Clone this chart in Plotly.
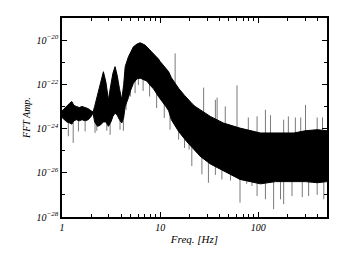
import numpy as np
import plotly.graph_objects as go

# Envelope of the dense FFT amplitude trace (log10 of amplitude)
freq_env = [1.00, 1.05, 1.12, 1.20, 1.26, 1.32, 1.40, 1.50, 1.60, 1.72, 1.85, 1.98, 2.07,
            2.15, 2.30, 2.45, 2.64, 2.80, 2.97, 3.15, 3.30, 3.47, 3.65, 3.85, 4.06, 4.25,
            4.40, 4.75, 4.97, 5.34, 5.8, 6.25, 7.0, 7.3, 8.1, 8.54, 9.6, 10.0, 11.4, 12.2,
            13.0, 15.4, 17.7, 18.7, 21.4, 22.7, 25.5, 32.4, 44.0, 65.0, 105.0, 150.0,
            230.0, 300.0, 400.0, 500.0]
upper_log = [-23.2, -23.1, -22.95, -22.85, -22.78, -22.95, -23.0, -23.05, -23.0, -23.05,
             -23.1, -23.2, -23.25, -23.0, -22.5, -22.0, -21.43, -21.9, -22.7, -22.0, -21.5,
             -21.2, -21.6, -22.2, -22.7, -22.0, -21.2, -20.75, -20.55, -20.3, -20.18,
             -20.12, -20.22, -20.3, -20.5, -20.6, -20.85, -20.97, -21.3, -21.43, -21.7,
             -22.18, -22.5, -22.63, -22.9, -23.0, -23.15, -23.45, -23.75, -23.98, -24.2,
             -24.2, -24.2, -24.1, -24.05, -24.1]
lower_log = [-23.5, -23.6, -23.7, -23.75, -23.8, -23.65, -23.6, -23.65, -23.6, -23.65,
             -23.6, -23.45, -23.3, -23.7, -23.9, -23.85, -23.7, -23.7, -23.9, -23.7, -23.45,
             -23.3, -23.4, -23.6, -23.75, -23.5, -23.0, -22.6, -22.3, -21.95, -21.75,
             -21.72, -21.8, -21.85, -22.1, -22.2, -22.55, -22.65, -23.0, -23.2, -23.6,
             -24.13, -24.5, -24.6, -24.88, -25.0, -25.25, -25.6, -25.9, -26.3, -26.5,
             -26.4, -26.4, -26.4, -26.45, -26.4]

# Grey downward spikes (frequency, log10 tip)
down_freq = [1.16, 1.30, 1.47, 1.72, 2.17, 2.26, 2.86, 3.09, 3.90, 4.22, 4.5, 4.97, 5.55,
             6.0, 6.7, 7.8, 9.2, 11.0, 12.6, 15.4, 17.7, 19.7, 21.0, 26.6, 31.0, 36.5,
             42.5, 52.0, 65.0, 76.0, 86.0, 97.0, 118.0, 143.0, 168.0, 181.0, 220.0,
             280.0, 325.0, 397.0, 464.0]
down_tip = [-24.35, -24.65, -24.13, -24.13, -24.2, -24.1, -24.1, -24.28, -24.05, -24.1,
            -23.15, -22.55, -22.4, -22.03, -22.3, -22.55, -23.07, -23.52, -24.05, -24.5,
            -24.88, -24.95, -25.7, -26.07, -26.45, -26.1, -26.3, -26.35, -27.35, -26.5,
            -26.6, -27.05, -27.2, -27.65, -27.2, -27.42, -27.05, -27.1, -27.05, -27.0,
            -27.2]

# Grey upward spikes (frequency, log10 tip)
up_freq = [14.2, 27.7, 36.5, 38.0, 46.0, 60.6, 79.0, 97.0, 118.0, 133.0, 181.0, 202.0,
           238.0, 270.0, 302.0, 397.0, 450.0]
up_tip = [-20.6, -22.15, -22.7, -22.6, -23.0, -22.05, -23.5, -23.45, -23.15, -23.4,
          -23.6, -23.45, -23.5, -23.5, -22.93, -23.5, -23.5]

x_tick_vals = [1, 10, 100]
x_tick_text = ["1", "10", "100"]
y_label_exps = [-28, -26, -24, -22, -20]
y_minor_exps = [-27, -25, -23, -21, -19]

lf = np.log10(freq_env)


def spikes(freqs, tips, env, offset):
    xs, ys = [], []
    for f, t in zip(freqs, tips):
        base = np.interp(np.log10(f), lf, env) + offset
        xs += [f, f, None]
        ys += [10 ** base, 10 ** t, None]
    return xs, ys


fig = go.Figure()
dx, dy = spikes(down_freq, down_tip, lower_log, 0.15)
ux, uy = spikes(up_freq, up_tip, upper_log, -0.15)
fig.add_trace(go.Scatter(x=dx, y=dy, mode="lines", line=dict(color="#7a7a7a", width=1),
                         hoverinfo="skip", showlegend=False))
fig.add_trace(go.Scatter(x=ux, y=uy, mode="lines", line=dict(color="#7a7a7a", width=1),
                         hoverinfo="skip", showlegend=False))
fig.add_trace(go.Scatter(x=freq_env, y=[10 ** v for v in lower_log], mode="lines",
                         line=dict(color="black", width=1), showlegend=False))
fig.add_trace(go.Scatter(x=freq_env, y=[10 ** v for v in upper_log], mode="lines",
                         line=dict(color="black", width=1), fill="tonexty",
                         fillcolor="black", showlegend=False))

font = dict(family="Liberation Serif", size=10, color="black", style="italic")

fig.update_layout(
    width=346, height=255,
    margin=dict(l=54, r=27, t=10, b=46, autoexpand=False),
    paper_bgcolor="white", plot_bgcolor="white",
    font=font,
    xaxis=dict(type="log", range=[0, np.log10(500)], showgrid=False, zeroline=False,
               automargin=False,
               showline=True, linecolor="black", linewidth=1.5, mirror="allticks",
               ticks="inside", ticklen=5, tickcolor="black",
               tickvals=x_tick_vals, ticktext=x_tick_text, tickfont=font,
               minor=dict(ticks="inside", ticklen=3, tickcolor="black",
                          tickvals=[2, 3, 4, 5, 6, 7, 8, 9, 20, 30, 40, 50, 60, 70, 80, 90,
                                    200, 300, 400], showgrid=False),
               title=dict(text="Freq. [Hz]", font=dict(family="Liberation Serif", size=11,
                                                      style="italic"), standoff=4)),
    yaxis=dict(type="log", range=[-28, -19], showgrid=False, zeroline=False,
               automargin=False,
               showline=True, linecolor="black", linewidth=1.5, mirror="allticks",
               ticks="inside", ticklen=5, tickcolor="black",
               tickvals=[10.0 ** e for e in y_label_exps],
               ticktext=["10<sup>\u2212%d</sup>" % -e for e in y_label_exps],
               tickfont=font,
               minor=dict(ticks="inside", ticklen=3, tickcolor="black",
                          tickvals=[10.0 ** e for e in y_minor_exps], showgrid=False),
               title=dict(text="FFT Amp.", font=dict(family="Liberation Serif", size=10,
                                                    style="italic"), standoff=4)),
)

fig.write_html("out.html")
